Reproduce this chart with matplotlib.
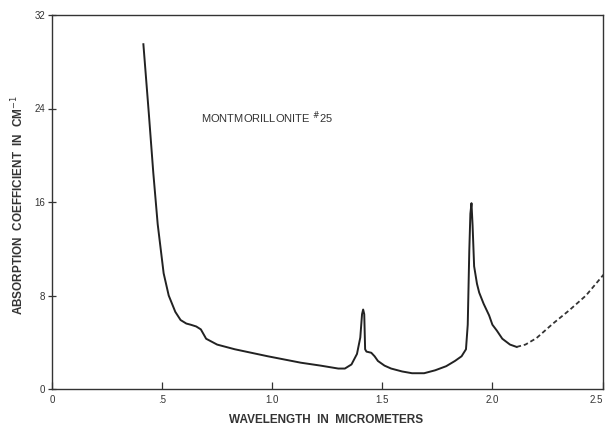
import matplotlib
matplotlib.use("Agg")
import matplotlib.pyplot as plt

# Solid (measured) part of the absorption curve
wl_solid = [0.415, 0.44, 0.46, 0.48, 0.507, 0.53, 0.56, 0.584, 0.61, 0.63, 0.655, 0.676, 0.70,
            0.75, 0.83, 0.98, 1.13, 1.22, 1.30, 1.33, 1.36, 1.385, 1.40, 1.408, 1.413,
            1.418, 1.422, 1.428, 1.45, 1.465, 1.48, 1.51, 1.54, 1.59, 1.635, 1.69, 1.74,
            1.79, 1.83, 1.86, 1.88, 1.888, 1.895, 1.900, 1.905, 1.910, 1.917, 1.93, 1.94,
            1.96, 1.985, 2.0, 2.02, 2.045, 2.08, 2.11]
abs_solid = [29.5, 23.5, 18.5, 14.1, 9.9, 8.0, 6.6, 5.9, 5.6, 5.5, 5.35, 5.1, 4.3,
             3.8, 3.4, 2.8, 2.25, 2.0, 1.75, 1.75, 2.1, 3.0, 4.4, 6.4, 6.8,
             6.4, 3.4, 3.2, 3.1, 2.8, 2.4, 2.0, 1.75, 1.5, 1.35, 1.35, 1.6,
             1.95, 2.4, 2.8, 3.4, 5.5, 11.8, 15.0, 15.9, 14.0, 10.5, 9.0, 8.25,
             7.3, 6.3, 5.5, 5.0, 4.3, 3.8, 3.6]

# Dashed (extrapolated) part
wl_dash = [2.11, 2.15, 2.2, 2.274, 2.35, 2.425, 2.51]
abs_dash = [3.6, 3.8, 4.35, 5.58, 6.75, 8.0, 9.9]

xticks = [0, 0.5, 1.0, 1.5, 2.0, 2.5]
xticklabels = ["0", ".5", "1.0", "1.5", "2.0", "2.5"]
yticks = [0, 8, 16, 24, 32]
yticklabels = ["0", "8", "16", "24", "32"]

plt.rcParams['font.family'] = ['Liberation Sans', 'DejaVu Sans']

fig = plt.figure(figsize=(6.07, 4.30), dpi=100)
ax = fig.add_axes([52/607, 1 - 389/430, (602.5 - 52)/607, (389 - 15)/430])

ax.plot(wl_solid, abs_solid, color="#222222", lw=1.4, solid_joinstyle="round")
ax.plot(wl_dash, abs_dash, color="#333333", lw=1.3, ls=(0, (2.5, 1.6)))

ax.set_xlim(0, 2.5)
ax.set_ylim(0, 32)
ax.set_xticks(xticks)
ax.set_xticklabels(xticklabels)
ax.set_yticks(yticks)
ax.set_yticklabels(yticklabels)
ax.tick_params(axis="x", direction="in", length=5, width=0.9, labelsize=7, pad=4, colors="#333333")
ax.tick_params(axis="y", direction="inout", length=6, width=0.9, labelsize=7, pad=2, colors="#333333")
last = ax.get_xticklabels()[-1]
last.set_horizontalalignment("right")
for s in ax.spines.values():
    s.set_linewidth(1.0)
    s.set_color("#333333")

ax.text(0.675, 23.2, r"MONTMORILLONITE $^{\#}$25", fontsize=8, color="#333333",
        ha="left", va="center")

fig.text(326/607, 1 - 420/430, "WAVELENGTH  IN  MICROMETERS", ha="center", va="center",
         fontsize=8.5, fontweight="bold", color="#333333")
fig.text(18/607, 1 - 205/430, "ABSORPTION  COEFFICIENT  IN  CM$^{-1}$", ha="center", va="center",
         rotation=90, fontsize=8.5, fontweight="bold", color="#333333")

fig.savefig("out.png", dpi=100)
